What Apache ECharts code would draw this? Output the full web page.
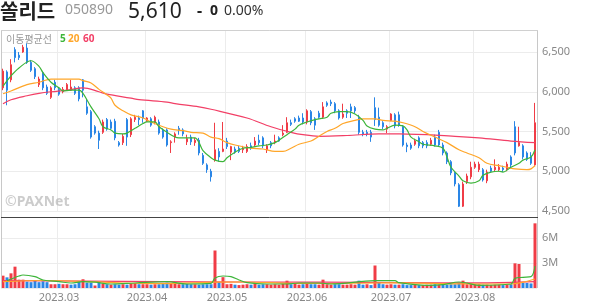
<!DOCTYPE html>
<html><head><meta charset="utf-8">
<script src="https://cdn.jsdelivr.net/npm/echarts@6/dist/echarts.min.js"></script>
<style>html,body{margin:0;padding:0;background:#fff}#c{width:594px;height:304px}</style>
</head><body><div id="c"></div>
<script>
const stockName = '쏠리드';
const stockCode = '050890';
const lastPrice = '5,610';
const changeText = '0';
const changePct = '0.00%';
const maLabels = ['5', '20', '60'];

const dates = ["2023.02.09","2023.02.10","2023.02.13","2023.02.14","2023.02.15","2023.02.16","2023.02.17","2023.02.20","2023.02.21","2023.02.22","2023.02.23","2023.02.24","2023.02.27","2023.02.28",
"2023.03.02","2023.03.03","2023.03.06","2023.03.07","2023.03.08","2023.03.09","2023.03.10","2023.03.13","2023.03.14","2023.03.15","2023.03.16","2023.03.17","2023.03.20","2023.03.21","2023.03.22","2023.03.23","2023.03.24","2023.03.27","2023.03.28","2023.03.29","2023.03.30","2023.03.31",
"2023.04.03","2023.04.04","2023.04.05","2023.04.06","2023.04.07","2023.04.10","2023.04.11","2023.04.12","2023.04.13","2023.04.14","2023.04.17","2023.04.18","2023.04.19","2023.04.20","2023.04.21","2023.04.24","2023.04.25","2023.04.26","2023.04.27","2023.04.28",
"2023.05.02","2023.05.03","2023.05.04","2023.05.08","2023.05.09","2023.05.10","2023.05.11","2023.05.12","2023.05.15","2023.05.16","2023.05.17","2023.05.18","2023.05.19","2023.05.22","2023.05.23","2023.05.24","2023.05.25","2023.05.26","2023.05.30","2023.05.31",
"2023.06.01","2023.06.02","2023.06.05","2023.06.07","2023.06.08","2023.06.09","2023.06.12","2023.06.13","2023.06.14","2023.06.15","2023.06.16","2023.06.19","2023.06.20","2023.06.21","2023.06.22","2023.06.23","2023.06.26","2023.06.27","2023.06.28","2023.06.29","2023.06.30",
"2023.07.03","2023.07.04","2023.07.05","2023.07.06","2023.07.07","2023.07.10","2023.07.11","2023.07.12","2023.07.13","2023.07.14","2023.07.17","2023.07.18","2023.07.19","2023.07.20","2023.07.21","2023.07.24","2023.07.25","2023.07.26","2023.07.27","2023.07.28","2023.07.31",
"2023.08.01","2023.08.02","2023.08.03","2023.08.04","2023.08.07","2023.08.08","2023.08.09","2023.08.10","2023.08.11","2023.08.14","2023.08.16","2023.08.17","2023.08.18","2023.08.21","2023.08.22","2023.08.23"];

const opens = [6050,6250,6150,6530,6460,6500,6550,6370,6290,6090,
6240,6060,5930,6120,6030,6000,6020,6020,6050,6050,
6150,5810,5750,5560,5480,5490,5650,5620,5630,5360,
5360,5650,5460,5650,5670,5760,5630,5660,5610,5620,
5520,5520,5360,5430,5540,5520,5370,5430,5360,5390,
5200,5080,5000,5140,5250,5250,5380,5240,5280,5290,
5270,5250,5320,5330,5390,5420,5270,5360,5360,5420,
5460,5490,5610,5660,5670,5670,5620,5750,5660,5730,
5680,5860,5870,5850,5760,5680,5760,5810,5800,5680,
5490,5490,5490,5800,5680,5610,5530,5640,5710,5710,
5560,5330,5330,5340,5420,5360,5360,5340,5430,5490,
5330,5230,5120,4980,4830,4560,4870,4930,5050,5020,
5020,4880,5040,5020,5020,5040,5020,5180,5560,5320,
5320,5230,5190,5080];

const closes = [6260,6020,6340,6430,6430,6560,6370,6270,6190,6160,
6050,5980,6050,6050,5970,6030,6090,6060,5980,5910,
6020,5730,5430,5480,5390,5620,5530,5540,5420,5330,
5440,5430,5660,5680,5650,5670,5670,5580,5680,5480,
5430,5330,5370,5470,5520,5470,5410,5370,5390,5230,
5100,5020,4930,5270,5180,5280,5310,5310,5240,5250,
5290,5310,5290,5380,5360,5320,5320,5320,5380,5380,
5480,5610,5590,5630,5630,5620,5760,5610,5580,5680,
5810,5830,5850,5760,5670,5720,5730,5760,5760,5490,
5470,5470,5430,5650,5580,5560,5560,5720,5570,5580,
5330,5310,5290,5380,5320,5320,5320,5390,5330,5330,
5230,5120,4980,4840,4560,4840,4940,5050,5090,5090,
4890,4990,5000,5050,5050,5020,5090,5080,5230,5360,
5180,5150,5100,5610];

const lows = [6020,5830,6120,6370,6400,6490,6350,6250,6160,6060,
6020,5960,5910,6020,5950,5980,6010,6010,5960,5880,
5930,5710,5410,5460,5280,5470,5510,5520,5390,5310,
5330,5320,5430,5620,5580,5610,5620,5560,5590,5460,
5410,5310,5230,5360,5460,5440,5330,5330,5320,5200,
5080,4980,4870,5120,5120,5240,5280,5140,5220,5230,
5230,5230,5270,5310,5330,5290,5230,5290,5340,5370,
5440,5480,5570,5610,5620,5590,5590,5580,5520,5660,
5660,5810,5820,5730,5650,5660,5670,5670,5730,5460,
5440,5440,5370,5570,5560,5530,5480,5630,5540,5560,
5310,5240,5270,5320,5290,5290,5290,5320,5310,5310,
5200,5090,4950,4810,4550,4550,4840,4900,5030,4990,
4870,4850,4980,4990,5000,4990,5000,5050,5200,5310,
5150,5130,5080,5070];

const highs = [6290,6270,6410,6560,6500,6590,6610,6400,6310,6190,
6260,6090,6070,6150,6060,6060,6110,6150,6070,6070,
6160,5910,5770,5580,5510,5650,5670,5650,5660,5380,
5470,5670,5680,5710,5700,5770,5680,5680,5700,5650,
5540,5540,5390,5490,5570,5540,5460,5460,5420,5420,
5230,5100,5030,5610,5290,5620,5420,5320,5310,5320,
5320,5340,5360,5430,5460,5440,5340,5380,5460,5440,
5580,5680,5650,5680,5700,5730,5780,5770,5680,5760,
5870,5880,5900,5870,5780,5850,5780,5850,5820,5710,
5520,5520,5520,5930,5800,5630,5580,5730,5730,5750,
5580,5360,5360,5410,5440,5380,5390,5420,5460,5520,
5360,5250,5140,5000,4850,4870,4970,5120,5120,5120,
5040,5020,5070,5150,5090,5070,5120,5200,5630,5560,
5340,5250,5240,5860];

const volumes = [1480000,1280000,1760000,2560000,1000000,1000000,760000,700000,880000,700000,
800000,700000,450000,450000,500000,450000,450000,400000,450000,800000,
1050000,650000,650000,300000,650000,500000,450000,400000,450000,400000,
450000,400000,550000,600000,450000,450000,450000,400000,450000,450000,
500000,650000,600000,650000,450000,450000,500000,450000,450000,400000,
450000,450000,450000,4500000,700000,1300000,450000,500000,400000,350000,
400000,450000,400000,500000,400000,450000,450000,400000,450000,400000,
500000,880000,450000,500000,400000,450000,500000,450000,450000,400000,
1000000,450000,400000,450000,450000,400000,400000,450000,400000,880000,
400000,450000,350000,2700000,700000,450000,400000,450000,400000,400000,
450000,350000,350000,400000,350000,350000,400000,400000,450000,400000,
450000,400000,450000,450000,600000,880000,450000,500000,450000,450000,
400000,400000,350000,400000,400000,350000,400000,450000,2960000,2880000,
600000,600000,550000,7760000];

// moving-average lines as [day index, value]
const ma5 = [[0,6070],[2,6200],[4,6300],[7,6390],[9,6320],[10,6240],[12,6120],[14,6050],[15,6010],[17,6020],[19,6020],[20,5980],[22,5810],[24,5660],[25,5560],[27,5520],[28,5480],[30,5470],[31,5480],[33,5540],[35,5600],[36,5620],[38,5620],[39,5560],[41,5490],[43,5430],[44,5420],[46,5420],[48,5420],[49,5360],[50,5260],[52,5170],[53,5140],[55,5120],[56,5170],[58,5240],[60,5290],[62,5300],[64,5320],[66,5330],[68,5360],[69,5390],[71,5460],[73,5530],[74,5580],[76,5620],[78,5650],[79,5660],[81,5680],[82,5730],[84,5750],[86,5750],[88,5720],[90,5640],[91,5570],[93,5530],[95,5520],[96,5540],[98,5580],[100,5570],[101,5520],[102,5430],[104,5370],[105,5340],[108,5320],[110,5290],[111,5180],[112,5050],[114,4940],[115,4880],[117,4850],[119,4880],[120,4950],[122,4990],[124,5000],[125,4990],[127,5050],[129,5100],[130,5140],[132,5180],[133,5270]];
const ma20 = [[0,5975],[2,6010],[6,6090],[9,6120],[12,6160],[14,6160],[17,6160],[19,6160],[20,6140],[22,6110],[24,6030],[26,5960],[27,5920],[28,5830],[30,5760],[32,5710],[35,5670],[37,5620],[40,5560],[42,5530],[45,5510],[47,5490],[50,5480],[52,5430],[54,5410],[56,5360],[58,5330],[62,5290],[65,5280],[68,5250],[70,5250],[72,5290],[74,5340],[77,5380],[79,5440],[81,5500],[83,5540],[85,5600],[88,5640],[90,5660],[93,5660],[95,5640],[98,5630],[100,5610],[103,5560],[105,5500],[108,5430],[111,5360],[114,5270],[116,5230],[119,5170],[121,5100],[124,5070],[126,5050],[128,5030],[131,5020],[132,5030],[133,5070]];
const ma60 = [[0,5850],[2,5900],[6,5950],[9,5980],[12,6000],[16,6020],[20,6050],[24,6000],[26,5970],[32,5920],[34,5900],[41,5870],[43,5850],[49,5810],[52,5780],[61,5670],[67,5560],[72,5490],[75,5460],[79,5440],[86,5450],[94,5470],[99,5470],[113,5440],[119,5420],[127,5380],[133,5360]];
const volMa5 = [[1,880000],[4,1440000],[5,1560000],[8,1360000],[10,960000],[14,760000],[17,600000],[20,760000],[23,700000],[27,480000],[33,600000],[41,760000],[46,480000],[52,560000],[53,1200000],[55,1440000],[57,1360000],[59,960000],[61,640000],[66,480000],[71,480000],[74,600000],[79,600000],[82,480000],[93,880000],[98,880000],[99,640000],[106,320000],[110,400000],[114,720000],[116,600000],[119,320000],[127,480000],[128,1160000],[130,1280000],[132,1360000],[133,2640000]];
const volMa20 = [[0,760000],[10,900000],[20,800000],[30,600000],[40,520000],[53,700000],[60,720000],[72,560000],[80,540000],[93,600000],[100,620000],[113,500000],[120,480000],[127,480000],[130,700000],[133,1080000]];
const volMa60 = [[0,880000],[20,820000],[40,760000],[60,720000],[80,700000],[100,640000],[120,620000],[133,760000]];

const priceMin = 4500, priceMax = 6777, priceStep = 500;
const volMax = 8520000, volStep = 3000000;

const UP = '#f03c46', DOWN = '#2a86e6';
const C5 = '#3db53a', C20 = '#ffa629', C60 = '#f23f66';
const GRID = '#ececec';
const FONT = '"Noto Sans", "Noto Sans CJK KR", sans-serif';

const isMonthStart = (i) => i > 0 && dates[i].slice(0, 7) !== dates[i - 1].slice(0, 7);
const candleData = dates.map((d, i) => [opens[i], closes[i], lows[i], highs[i]]);
const volData = volumes.map((v, i) => ({
  value: v,
  itemStyle: { color: (i === 0 || closes[i] >= closes[i - 1]) ? UP : DOWN }
}));

const chart = echarts.init(document.getElementById('c'));
const L = 1, R = 537;
const lineSeries = (data, color, xi, yi) => ({
  type: 'line', data, xAxisIndex: xi, yAxisIndex: yi, showSymbol: false, smooth: 0.35,
  lineStyle: { color, width: 1.2 }, z: 5, silent: true
});

chart.setOption({
  animation: false,
  backgroundColor: '#fff',
  textStyle: { fontFamily: FONT },
  grid: [
    { left: L, top: 30, width: R - L, height: 181 },
    { left: L, top: 217, width: R - L, height: 71 }
  ],
  xAxis: [
    { type: 'category', gridIndex: 0, data: dates, boundaryGap: true,
      axisLine: { show: false }, axisTick: { show: false }, axisLabel: { show: false },
      splitLine: { show: true, interval: (i) => isMonthStart(i), lineStyle: { color: GRID } } },
    { type: 'category', gridIndex: 1, data: dates, boundaryGap: true,
      axisLine: { show: false }, axisTick: { show: false },
      axisLabel: { interval: (i) => isMonthStart(i), formatter: (v) => v.slice(0, 7), color: '#888', fontSize: 11, margin: 4, fontFamily: FONT },
      splitLine: { show: true, interval: (i) => isMonthStart(i), lineStyle: { color: GRID } } }
  ],
  yAxis: [
    { type: 'value', gridIndex: 0, position: 'right', min: priceMin, max: priceMax, interval: priceStep,
      axisLine: { show: false }, axisTick: { show: false },
      axisLabel: { color: '#888', fontSize: 11, margin: 5, fontFamily: FONT, showMaxLabel: false,
        formatter: (v) => v.toLocaleString('en-US') },
      splitLine: { lineStyle: { color: GRID } } },
    { type: 'value', gridIndex: 1, position: 'right', min: 0, max: volMax, interval: volStep,
      axisLine: { show: false }, axisTick: { show: false },
      axisLabel: { color: '#888', fontSize: 11, margin: 5, fontFamily: FONT, showMinLabel: false, showMaxLabel: false,
        formatter: (v) => v === 0 ? '' : (v / 1000000) + 'M' },
      splitLine: { lineStyle: { color: GRID } } }
  ],
  series: [
    { type: 'candlestick', data: candleData, xAxisIndex: 0, yAxisIndex: 0, barWidth: 2.4,
      itemStyle: { color: UP, color0: DOWN, borderColor: UP, borderColor0: DOWN, borderWidth: 1 }, z: 3 },
    lineSeries(ma60, C60, 0, 0),
    lineSeries(ma20, C20, 0, 0),
    lineSeries(ma5, C5, 0, 0),
    { type: 'bar', data: volData, xAxisIndex: 1, yAxisIndex: 1, barWidth: 3, z: 3 },
    lineSeries(volMa60, C60, 1, 1),
    lineSeries(volMa20, C20, 1, 1),
    lineSeries(volMa5, C5, 1, 1)
  ],
  graphic: [
    { type: 'line', shape: { x1: L + 0.5, y1: 30, x2: L + 0.5, y2: 288 }, style: { stroke: '#c8c8c8', lineWidth: 1 }, z: 20 },
    { type: 'line', shape: { x1: R + 0.5, y1: 30, x2: R + 0.5, y2: 288 }, style: { stroke: '#c8c8c8', lineWidth: 1 }, z: 20 },
    { type: 'line', shape: { x1: L, y1: 30.5, x2: R + 1, y2: 30.5 }, style: { stroke: '#d0d0d0', lineWidth: 1 }, z: 20 },
    { type: 'line', shape: { x1: L, y1: 217.5, x2: R + 1, y2: 217.5 }, style: { stroke: '#444', lineWidth: 1 }, z: 20 },
    { type: 'text', left: 0, top: 1, z: 30, style: { text: stockName, font: 'bold 20px "Noto Sans CJK KR"', fill: '#222' } },
    { type: 'text', left: 65, top: 3, z: 30, style: { text: stockCode, font: '14px ' + FONT, fill: '#999' } },
    { type: 'text', left: 128, top: 2, z: 30, style: { text: lastPrice, font: '21px ' + FONT, fill: '#222' } },
    { type: 'text', left: 197, top: 3, z: 30, style: { text: '-', font: 'bold 16px ' + FONT, fill: '#222' } },
    { type: 'text', left: 210, top: 4, z: 30, style: { text: changeText, font: 'bold 14px ' + FONT, fill: '#222' } },
    { type: 'text', left: 224, top: 4, z: 30, style: { text: changePct, font: '14px ' + FONT, fill: '#333' } },
    { type: 'text', left: 6, top: 34, z: 30, style: { text: '이동평균선', font: '10px "Noto Sans CJK KR"', fill: '#999' } },
    { type: 'text', left: 60, top: 34, z: 30, style: { text: maLabels[0], font: 'bold 10px ' + FONT, fill: C5 } },
    { type: 'text', left: 68, top: 34, z: 30, style: { text: maLabels[1], font: 'bold 10px ' + FONT, fill: C20 } },
    { type: 'text', left: 83, top: 34, z: 30, style: { text: maLabels[2], font: 'bold 10px ' + FONT, fill: C60 } },
    { type: 'text', left: 5, top: 195, z: 30, style: { text: '©PAXNet', font: 'bold 14px ' + FONT, fill: 'rgba(170,170,170,0.6)' } }
  ]
});
</script></body></html>
